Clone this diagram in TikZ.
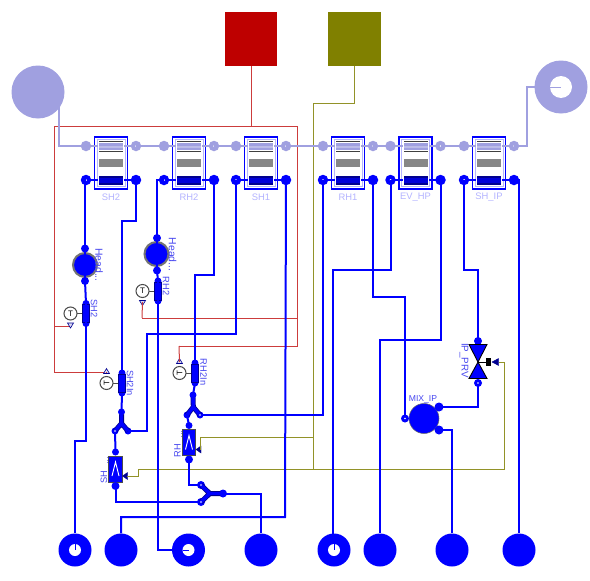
\documentclass[tikz,border=0pt]{standalone}
\usepackage{fontspec}
\usetikzlibrary{calc}
\setmainfont{Liberation Sans}
\definecolor{pale}{HTML}{A0A0E0}
\definecolor{fl}{HTML}{0000FF}
\definecolor{navy2}{HTML}{000090}
\definecolor{redl}{HTML}{CC3C3C}
\definecolor{olv}{HTML}{929228}
\definecolor{lab}{HTML}{B4B4FF}
\definecolor{lab2}{HTML}{4848F0}
\definecolor{sqred}{HTML}{BE0000}
\definecolor{sqolv}{HTML}{808000}
\tikzset{
 fluid/.style={draw=fl,line width=2pt,line join=miter},
 steam/.style={draw=pale,line width=1.6pt},
 sig/.style={draw=redl,line width=1pt},
 ctl/.style={draw=olv,line width=1pt},
 pt/.style={circle,fill=#1,inner sep=0pt,minimum size=10.5pt},
 ptb/.style={circle,fill=fl,inner sep=0pt,minimum size=8pt},
 big/.style={circle,fill=fl,inner sep=0pt,minimum size=33pt},
 bigl/.style={circle,fill=pale,inner sep=0pt,minimum size=53pt},
 sq/.style={rectangle,fill=#1,inner sep=0pt,minimum width=52.5pt,minimum height=54pt},
 txt/.style={font=\fontsize{9.3}{10}\selectfont,text=lab2,inner sep=0pt},
 pl/.style={font=\fontsize{9.4}{10}\selectfont,text=lab,inner sep=0pt},
}
% heat exchanger: name, centre x, label
\newcommand{\hxu}[3]{%
 \node[draw=lab,line width=.6pt,minimum width=28pt,minimum height=47pt,inner sep=0pt] (#1-in) at (#2,163) {};
 \node[draw=fl,line width=1.3pt,minimum width=33pt,minimum height=52pt,inner sep=0pt] (#1) at (#2,163) {};
 \node[pt=pale] (#1-a) at (#2-25,146) {};
 \node[pt=pale] (#1-b) at (#2+25,146) {};
 \node[pt=fl] (#1-c) at (#2-25,180) {};
 \node[pt=fl] (#1-d) at (#2+25,180) {};
 \draw[steam] (#1-a.center) -- (#1-b.center);
 \draw[fluid] (#1-c.center) -- (#1-d.center);
 \fill[white] (#2-13,140) rectangle (#2+13,153);
 \fill[white] (#2-13,175) rectangle (#2+13,186);
 \fill[black!75] (#2-12,141) rectangle (#2+12,142);
 \fill[black!75] (#2-12,151) rectangle (#2+12,152);
 \fill[pale] (#2-12,143) rectangle (#2+12,150);
 \fill[pale!70!white] (#2-12,145.5) rectangle (#2+12,147.5);
 \fill[black!47] (#2-12,159) rectangle (#2+12,167);
 \fill[navy2] (#2-12,176) rectangle (#2+12,185);
 \fill[blue!85!black] (#2-12,178) rectangle (#2+12,182.5);
 \fill[white] (#1-c.center) circle (1pt);
 \fill[white!80!pale] (#1-b.center) circle (1pt);
 \node[pl] (#1-l) at (#2,197.5) {#3};
}
% temperature sensor: name, x, y, side(-1 up,1 down)
\newcommand{\tsens}[4]{%
 \node[ptb,minimum size=7pt] (#1-p) at (#2,#3-10) {};
 \node[ptb,minimum size=7pt] (#1-q) at (#2,#3+10) {};
 \draw[black!70,line width=.7pt] (#2-15,#3) -- (#2,#3);
 \draw[draw=navy2,fill=fl,line width=.7pt] (#2-3.5,#3-9) rectangle (#2+3.5,#3+9);
 \node[circle,draw=black!70,fill=white,line width=1pt,inner sep=0pt,minimum size=13pt] (#1-c) at (#2-15.5,#3) {};
 \node[rotate={(1-#4)*45},inner sep=0pt,font=\fontsize{8}{8}\selectfont] (#1-T) at (#2-15.5,#3) {T};
 \coordinate (#1-t) at (#2-15.5,#3+#4*11);
 \draw[draw=navy2,fill=pale!40,line width=.6pt] (#2-18.5,#3+#4*9.5) -- (#2-12.5,#3+#4*9.5) -- (#2-15.5,#3+#4*14.5) -- cycle;
}
% attemperator: name, centre x, top y, label
\newcommand{\attem}[4]{%
 \node[draw=black!70,fill=fl,line width=.6pt,minimum width=13.5pt,minimum height=26pt,inner sep=0pt] (#1) at (#2,#3+13) {};
 \draw[white,line width=.9pt] (#2-3.5,#3+20) -- (#2,#3+6) -- (#2+3.5,#3+20);
 \node[ptb,minimum size=7pt] (#1-p) at (#2,#3-4) {};
 \node[ptb,minimum size=8pt] (#1-q) at (#2,#3+30) {};
 \draw[fill=navy2,draw=navy2] (#2+7,#3+20) -- (#2+12,#3+16.5) -- (#2+12,#3+23.5) -- cycle;
 \coordinate (#1-t) at (#2+11,#3+20);
 \draw[lab2!70!white,line width=.6pt,dotted] (#2-8,#3+1) -- (#2-8,#3+8);
 \node[txt,rotate=90,anchor=east] (#1-l) at (#2-11.5,#3+14.5) {#4};
}
\begin{document}
\begin{tikzpicture}[x=1pt,y=-1pt]
\useasboundingbox (0,0) rectangle (590,581);
\fill[white] (0,0) rectangle (590,581);
% sources
\node[sq=sqred] (redsq) at (251,39) {};
\node[sq=sqolv] (olvsq) at (354.5,39) {};
\node[bigl] (gasin) at (38,92) {};
\node[bigl] (gasout) at (561,87) {};
% bottom ports
\node[big] (b1) at (75,550) {};
\node[big] (b2) at (121,550) {};
\node[big] (b3) at (188.5,550) {};
\node[big] (b4) at (261,550) {};
\node[big] (b5) at (334,550) {};
\node[big] (b6) at (380,550) {};
\node[big] (b7) at (452,550) {};
\node[big] (b8) at (519,550) {};
% control / signal wiring
\coordinate (rtee) at (251,126);
\coordinate (rl) at (54,126);
\coordinate (rr) at (297,126);
\draw[sig] (redsq.south) -- (rtee);
\draw[sig] (rr) -- (rl) -- ++(0,246) -- ++(52,0) coordinate (ts3e);
\draw[sig] (rl) ++(0,200) -- ++(16,0);
\draw[sig] (rr) -- ++(0,220) -- ++(-118,0) coordinate (ts4e);
\draw[sig] (rr) ++(0,192) -- ++(-155,0) coordinate (ts2e);
\hxu{sh2}{111}{SH2}
\hxu{rh2}{189}{RH2}
\hxu{sh1}{261}{SH1}
\hxu{rh1}{348}{RH1}
\hxu{ev}{415.5}{EV\_HP}
\hxu{ship}{489}{SH\_IP}
\tsens{ts1}{86}{313.5}{1}
\tsens{ts2}{158}{291}{1}
\tsens{ts3}{122}{383}{-1}
\tsens{ts4}{195}{373}{-1}
\attem{sha}{115.5}{456}{SH}
\attem{rha}{189}{429.5}{RH}
\draw[sig] (ts4e) -- (ts4-t);
\draw[sig] (ts2e) -- (ts2-t);
\draw[sig] (ts3e) -- (ts3-t);
% head nodes
\node[circle,draw=black!55,fill=fl,line width=2pt,inner sep=0pt,minimum size=24pt] (h1) at (85,265) {};
\node[ptb] (h1a) at (85,248.5) {};
\node[ptb] (h1b) at (85,281) {};
\node[txt,font=\fontsize{10.4}{11}\selectfont,rotate=-90] (h1l) at (99,265) {Head...};
\node[circle,draw=black!55,fill=fl,line width=2pt,inner sep=0pt,minimum size=24pt] (h2) at (156.5,254) {};
\node[ptb] (h2a) at (157,238) {};
\node[ptb] (h2b) at (157,270.5) {};
\node[txt,font=\fontsize{10.4}{11}\selectfont,rotate=-90] (h2l) at (172.5,254.5) {Head...};
\draw[fluid] (h1a.center) -- (h1b.center);
\draw[fluid] (h2a.center) -- (h2b.center);
\node[txt,rotate=-90] (l1) at (94,308.5) {SH2};
\node[txt,rotate=-90] (l2) at (166,286) {RH2};
\node[txt,rotate=-90] (l3) at (130,383) {SH2In};
\node[txt,rotate=-90] (l4) at (203.5,372) {RH2In};
% junctions
\node[ptb,minimum size=7pt] (y1) at (121.5,412) {};
\node[ptb,minimum size=7pt] (y1l) at (115,431) {};
\node[ptb,minimum size=7pt] (y1r) at (128,431) {};
\node[ptb,minimum size=7pt] (y2) at (193,395) {};
\node[ptb,minimum size=7pt] (y2l) at (187,415) {};
\node[ptb,minimum size=7pt] (y2r) at (200,415) {};
\node[ptb] (y3) at (223,493.5) {};
\node[ptb] (y3a) at (201,485) {};
\node[ptb] (y3b) at (201,502) {};
\foreach \a/\b/\c in {y1/y1l/y1r,y2/y2l/y2r,y3/y3a/y3b}{
 \coordinate (ym) at ($(\a.center)!.6!($(\b.center)!.5!(\c.center)$)$);
 \coordinate (yn) at ($(\a.center)!.2!(ym)$);
 \draw[navy2,line width=5pt,line join=round] (\b.center) -- (ym) -- (\c.center);
 \draw[navy2,line width=5pt] (yn) -- (ym);
 \draw[fl,line width=3.4pt,line join=round] (\b.center) -- (ym) -- (\c.center);
 \draw[fl,line width=3.4pt] (\a.center) -- (ym);
}
% valve
\node[ptb] (vt) at (478,341) {};
\node[ptb] (vb) at (478,383) {};
\coordinate (vm) at (478,362);
\draw[black,fill=fl,line width=.9pt] (469,344.5) -- (487,344.5) -- (vm) -- cycle;
\draw[black,fill=fl,line width=.9pt] (469,378.5) -- (487,378.5) -- (vm) -- cycle;
\draw[black,line width=1pt] (vm) -- (488,362);
\fill[black] (486,358) rectangle (491,366);
\draw[fill=navy2,draw=navy2] (492,362) -- (498.5,358.5) -- (498.5,365.5) -- cycle;
\coordinate (vc) at (498.5,362);
\node[txt,font=\fontsize{9.8}{10}\selectfont,rotate=-90] (vl) at (464,360.5) {IP\_PRV};
% mixer
\node[circle,draw=black!60,fill=fl,line width=.5pt,inner sep=0pt,minimum size=30pt] (mix) at (424,418.5) {};
\node[ptb] (ma) at (405,418.5) {};
\node[ptb,minimum size=9pt] (mb) at (439,407) {};
\node[ptb,minimum size=9pt] (mc) at (439,430) {};
\node[txt,font=\fontsize{8.6}{9}\selectfont] (ml) at (423,399) {MIX\_IP};
% control lines
\draw[ctl] (olvsq.south) |- (313,103) -- (313,469);
\draw[ctl] (sha-t) -- ++(12,0) -- ++(0,-7) -- (504,469) -- (504,362) -- (vc);
\draw[ctl] (313,437) -| (rha-t);
% gas chain
\draw[steam] (gasin) ++(21,15) |- (sh2-a.center);
\draw[steam] (sh2-b.center) -- (rh2-a.center);
\draw[steam] (rh2-b.center) -- (sh1-a.center);
\draw[steam] (sh1-b.center) -- (rh1-a.center);
\draw[steam] (rh1-b.center) -- (ev-a.center);
\draw[steam] (ev-b.center) -- (ship-a.center);
\draw[steam] (ship-b.center) -- ++(13,0) |- (gasout.center);
% fluid wiring
\draw[fluid] (sh2-c.center) -- ++(-1,0) -- (h1a.center);
\draw[fluid] (h1b.center) -- (ts1-p.center);
\draw[fluid] (ts1-p.center) -- (86,441) -| (b1.north);
\draw[fluid] (sh2-d.center) |- (122,221) -- (ts3-p.center);
\draw[fluid] (ts3-q.center) -- (y1.center);
\draw[fluid] (y1l.center) -- (sha-p.center);
\draw[fluid] (y1r.center) -| (147,334) -| (sh1-c.center);
\draw[fluid] (sha-q.center) |- (y3b.center);
\draw[fluid] (rh2-c.center) -| (h2a.center);
\draw[fluid] (h2b.center) -- (ts2-p.center);
\draw[fluid] (ts2-p.center) |- (b3.center);
\draw[fluid] (rh2-d.center) |- (195,275) -- (ts4-p.center);
\draw[fluid] (ts4-q.center) -- (y2.center);
\draw[fluid] (y2l.center) -- (rha-p.center);
\draw[fluid] (y2r.center) -| (rh1-c.center);
\draw[fluid] (rha-q.center) |- (y3a.center);
\draw[fluid] (y3.center) -| (b4.north);
\draw[fluid] (b2.north) |- (285,517) -- (sh1-d.center);
\draw[fluid] (ev-c.center) |- (333,270) -- (333,535);
\draw[fluid] (rh1-d.center) |- (405,297) -- (ma.center);
\draw[fluid] (ev-d.center) |- (380,340) -- (b6.north);
\draw[fluid] (ship-c.center) |- (478,270) -- (vt.center);
\draw[fluid] (vb.center) |- (mb.center);
\draw[fluid] (mc.center) -| (b7.north);
\draw[fluid] (ship-d.center) -| (b8.north);
% port holes
\fill[white] (gasout.center) circle (11pt);
\draw[pale,line width=1pt] (gasout.center) ++(-11,0) -- (gasout.center);
\fill[white] (b1.center) circle (6pt);
\draw[fl,line width=1pt] (b1.center) ++(0,-6) -- (b1.center);
\fill[white] (b3.center) circle (6pt);
\draw[fl,line width=1pt] (b3.center) ++(-6,0) -- (b3.center);
\fill[white] (b5.center) circle (6pt);
\draw[fl,line width=1pt] (b5.center) ++(0,-6) -- (b5.center);
\foreach \n in {ma,vb,y1l,y2r,y3a,y3b}{\fill[white] (\n.center) circle (.8pt);}
\end{tikzpicture}
\end{document}
